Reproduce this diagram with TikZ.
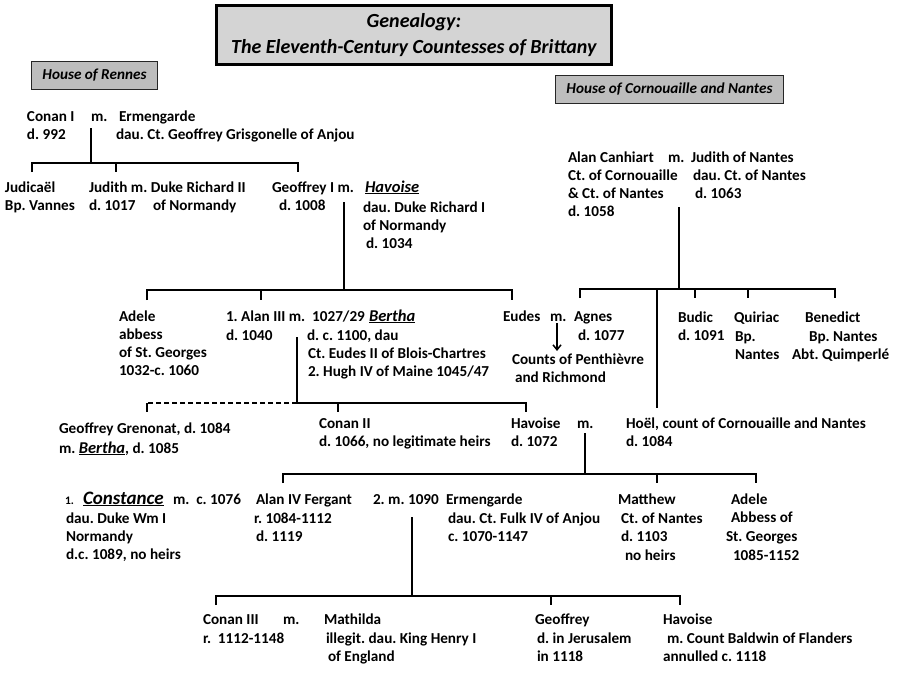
\documentclass[tikz,border=0pt]{standalone}
\usepackage{fontspec}
\setmainfont{Carlito}[BoldFont={Carlito Bold},ItalicFont={Carlito Italic},BoldItalicFont={Carlito Bold Italic}]
\usetikzlibrary{arrows.meta}
\definecolor{titlegray}{HTML}{D4D4D4}
\definecolor{housegray}{HTML}{BDBDBD}
\newcommand\nmu[2]{{\fontsize{#1}{18}\selectfont\bfseries\itshape\setbox0\hbox{#2}\rlap{\rule[-2.3pt]{\wd0}{1.3pt}}\box0}}
\newcommand\ml[1]{\vtop{\baselineskip=18.3pt\lineskiplimit=-20pt\halign{##\hfil\cr#1\crcr}}}
\begin{document}
\frenchspacing
\begin{tikzpicture}[x=1pt,y=-1pt,
  txt/.style={anchor=base west,inner sep=0pt,outer sep=0pt,font=\fontsize{15.2}{18.3}\selectfont\bfseries\frenchspacing},
  ln/.style={line width=1.5pt,black},
  dln/.style={line width=1.5pt,black,dash pattern=on 5pt off 3pt},
  titlebox/.style={draw=black,line width=2.8pt,fill=titlegray,anchor=north west,align=center,inner sep=0pt,
    font=\fontsize{20}{26}\selectfont\bfseries\itshape},
  housebox/.style={draw=black!85,line width=1pt,fill=housegray,anchor=north west,inner sep=0pt,
    font=\fontsize{15.2}{16}\selectfont\bfseries\itshape}]
\useasboundingbox[fill=white] (0,0) rectangle (899,675);

% headers
\node[titlebox,minimum width=395pt,minimum height=59pt] (title) at (215,4)
  {Genealogy:\\The Eleventh-Century Countesses of Brittany};
\node[housebox,minimum width=126pt,minimum height=28pt] (rennes) at (31,61) {House of Rennes};
\node[housebox,minimum width=228pt,minimum height=28pt] (corn) at (555,75) {House of Cornouaille and Nantes};

% ---------- House of Rennes, generation 1
\node[txt] (conan1) at (27,121) {\ml{Conan I\cr d. 992}};
\node[txt] (m1) at (91,121) {m.};
\node[txt] (erm1) at (119,121) {Ermengarde};
\node[txt] (erm1d) at (116,139) {dau. Ct. Geoffrey Grisgonelle of Anjou};

% generation 2
\node[txt] (judic) at (5,192) {\ml{Judica\"el\cr Bp. Vannes}};
\node[txt] (judith) at (89,192) {Judith m. Duke Richard II};
\node[txt] (judithd) at (89,210) {d. 1017};
\node[txt] (richard) at (153,210) {of Normandy};
\node[txt] (geof1) at (272,192) {Geoffrey I m.};
\node[txt] (geof1d) at (279,210) {d. 1008};
\node[txt] (hav1) at (365,192) {\nmu{16.5}{Havoise}};
\node[txt] (hav1d) at (363,212) {\ml{dau. Duke Richard I\cr of Normandy}};
\node[txt] (hav1dd) at (366,248) {d. 1034};

\coordinate (c1a) at (91,128);
\coordinate (c1b) at (91,163);
\coordinate (c1l) at (32,163);
\coordinate (c1l2) at (32,172);
\coordinate (c1m) at (116,163);
\coordinate (c1m2) at (116,172);
\coordinate (c1r) at (298,163);
\coordinate (c1r2) at (298,172);
\draw[ln] (c1a) -- (c1b);
\draw[ln] (c1l2) -- (c1l) -- (c1r) -- (c1r2);
\draw[ln] (c1m) -- (c1m2);

% generation 3
\coordinate (c2a) at (344,202);
\coordinate (c2b) at (344,290);
\coordinate (c2l) at (147,290);
\coordinate (c2l2) at (147,300);
\coordinate (c2m) at (261,290);
\coordinate (c2m2) at (261,300);
\coordinate (c2r) at (512,290);
\coordinate (c2r2) at (512,300);
\draw[ln] (c2a) -- (c2b);
\draw[ln] (c2l2) -- (c2l) -- (c2r) -- (c2r2);
\draw[ln] (c2m) -- (c2m2);

\node[txt] (adele1) at (119,321) {\ml{Adele\cr abbess\cr of St. Georges\cr 1032-c. 1060}};
\node[txt] (alan3) at (226,321) {1. Alan III m.\ \ 1027/29};
\node[txt] (bertha) at (369,321) {\nmu{16.5}{Bertha}};
\node[txt] (alan3d) at (226,340) {d. 1040};
\node[txt] (berthad) at (307,340) {d. c. 1100, dau};
\node[txt] (berthadd) at (308,358) {\ml{Ct. Eudes II of Blois-Chartres\cr 2. Hugh IV of Maine 1045/47}};

\node[txt] (eudes) at (503,321) {Eudes};
\node[txt] (m3) at (550,321) {m.};
\node[txt] (agnes) at (574,321) {Agnes};
\node[txt] (agnesd) at (578,340) {d. 1077};
\coordinate (arA) at (557,323);
\coordinate (arB) at (557,351);
\draw[ln,-{Straight Barb[length=5pt,width=8pt]}] (arA) -- (arB);
\node[txt] (counts) at (512,364) {Counts of Penthi\`evre};
\node[txt] (counts2) at (515,382) {and Richmond};

% generation 4 (Rennes)
\coordinate (c3a) at (297,337);
\coordinate (c3b) at (297,403);
\coordinate (c3l) at (147,403);
\coordinate (c3l2) at (147,412);
\coordinate (c3m) at (338,403);
\coordinate (c3m2) at (338,412);
\coordinate (c3r) at (526,403);
\coordinate (c3r2) at (526,412);
\draw[ln] (c3a) -- (c3b) -- (c3r) -- (c3r2);
\draw[ln] (c3m) -- (c3m2);
\draw[dln] (c3b) -- (c3l);
\draw[ln] (c3l) -- (c3l2);

\node[txt] (grenonat) at (59,433) {Geoffrey Grenonat, d. 1084};
\node[txt] (grenonat2) at (59,453) {m. \nmu{16.5}{Bertha}, d. 1085};
\node[txt] (conan2) at (319,428) {\ml{Conan II\cr d. 1066, no legitimate heirs}};
\node[txt] (hav2) at (511,428) {\ml{Havoise\cr d. 1072}};
\node[txt] (m4) at (577,428) {m.};
\node[txt] (hoel) at (626,428) {\ml{Ho\"el, count of Cornouaille and Nantes\cr d. 1084}};

% ---------- House of Cornouaille and Nantes
\node[txt] (canh) at (568,162) {\ml{Alan Canhiart\cr Ct. of Cornouaille\cr \&~Ct. of Nantes\cr d. 1058}};
\node[txt] (m2) at (668,162) {m.};
\node[txt] (judn) at (691,162) {Judith of Nantes};
\node[txt] (judnd) at (693,180) {dau. Ct. of Nantes};
\node[txt] (judndd) at (695,198) {d. 1063};

\coordinate (k1a) at (679,207);
\coordinate (k1b) at (679,289);
\coordinate (k1l) at (580,289);
\coordinate (k1l2) at (580,298);
\coordinate (k1h) at (657,289);
\coordinate (k1h2) at (657,408);
\coordinate (k1m) at (695,289);
\coordinate (k1m2) at (695,298);
\coordinate (k1n) at (748,289);
\coordinate (k1n2) at (748,298);
\coordinate (k1r) at (835,289);
\coordinate (k1r2) at (835,298);
\draw[ln] (k1a) -- (k1b);
\draw[ln] (k1l2) -- (k1l) -- (k1r) -- (k1r2);
\draw[ln] (k1h) -- (k1h2);
\draw[ln] (k1m) -- (k1m2);
\draw[ln] (k1n) -- (k1n2);

\node[txt] (budic) at (678,322) {\ml{Budic\cr d. 1091}};
\node[txt] (quiriac) at (734,322) {Quiriac};
\node[txt] (quiriacd) at (735,341) {\ml{Bp.\cr Nantes}};
\node[txt] (bened) at (805,322) {Benedict};
\node[txt] (benedd) at (809,341) {Bp. Nantes};
\node[txt] (beneddd) at (792,359) {Abt. Quimperl\'e};

% generation 5
\coordinate (c4a) at (585,433);
\coordinate (c4b) at (585,474);
\coordinate (c4l) at (283,474);
\coordinate (c4l2) at (283,483);
\coordinate (c4m) at (657,474);
\coordinate (c4m2) at (657,483);
\coordinate (c4r) at (756,474);
\coordinate (c4r2) at (756,483);
\draw[ln] (c4a) -- (c4b);
\draw[ln] (c4l2) -- (c4l) -- (c4r) -- (c4r2);
\draw[ln] (c4m) -- (c4m2);

\node[txt] (const1) at (65,504) {{\fontsize{11.5}{13}\selectfont 1.}};
\node[txt] (const) at (83,504) {\nmu{19}{Constance}};
\node[txt] (constm) at (173,504) {m.\ \ c. 1076};
\node[txt] (constd) at (66,523) {\ml{dau. Duke Wm I\cr Normandy\cr d.c. 1089, no heirs}};
\node[txt] (alan4) at (256,504) {Alan IV Fergant};
\node[txt] (alan4r) at (254,523) {r. 1084-1112};
\node[txt] (alan4d) at (256,541) {d. 1119};
\node[txt] (m5) at (373,504) {2. m. 1090};
\node[txt] (erm2) at (446,504) {Ermengarde};
\node[txt] (erm2d) at (448,523) {\ml{dau. Ct. Fulk IV of Anjou\cr c. 1070-1147}};
\node[txt] (matt) at (618,504) {Matthew};
\node[txt] (mattd) at (621,523) {\ml{Ct. of Nantes\cr d. 1103}};
\node[txt] (mattdd) at (625,560) {no heirs};
\node[txt] (adele2) at (731,504) {\ml{Adele\cr Abbess of}};
\node[txt] (adele2d) at (726,541) {St. Georges};
\node[txt] (adele2dd) at (733,560) {1085-1152};

% generation 6
\coordinate (c5a) at (412,517);
\coordinate (c5b) at (412,596);
\coordinate (c5l) at (216,596);
\coordinate (c5l2) at (216,605);
\coordinate (c5m) at (551,596);
\coordinate (c5m2) at (551,605);
\coordinate (c5r) at (680,596);
\coordinate (c5r2) at (680,605);
\draw[ln] (c5a) -- (c5b);
\draw[ln] (c5l2) -- (c5l) -- (c5r) -- (c5r2);
\draw[ln] (c5m) -- (c5m2);

\node[txt] (conan3) at (203,624) {Conan III};
\node[txt] (m6) at (283,624) {m.};
\node[txt] (conan3d) at (203,643) {r.\ \ 1112-1148};
\node[txt] (math) at (324,624) {Mathilda};
\node[txt] (mathd) at (326,643) {illegit. dau. King Henry I};
\node[txt] (mathdd) at (328,661) {of England};
\node[txt] (geof2) at (535,624) {Geoffrey};
\node[txt] (geof2d) at (537,643) {\ml{d. in Jerusalem\cr in 1118}};
\node[txt] (hav3) at (663,624) {Havoise};
\node[txt] (hav3d) at (667,643) {m. Count Baldwin of Flanders};
\node[txt] (hav3dd) at (663,661) {annulled c. 1118};
\end{tikzpicture}
\end{document}
